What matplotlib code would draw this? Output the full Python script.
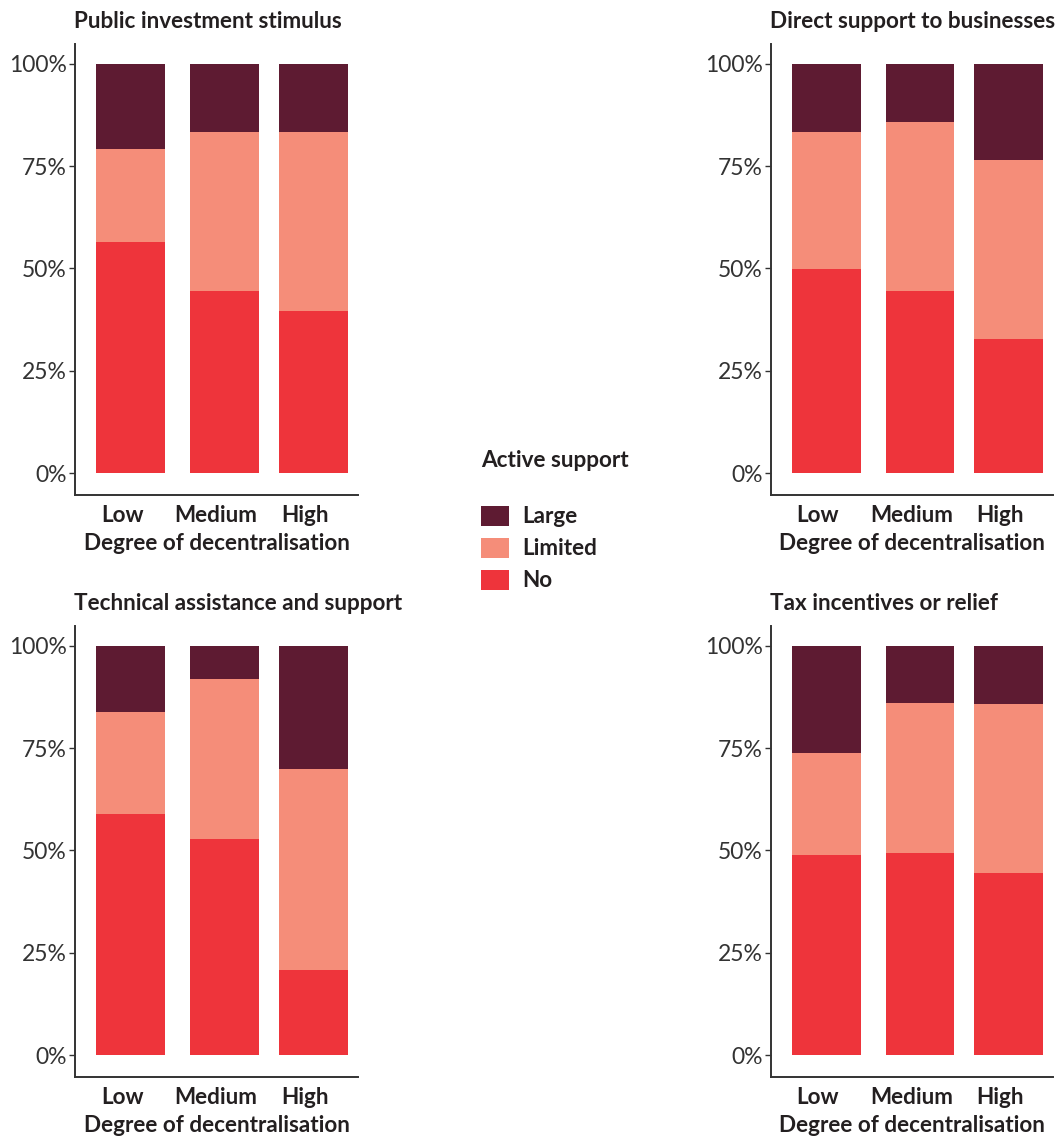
import matplotlib
matplotlib.use("Agg")
import matplotlib.pyplot as plt
from matplotlib.patches import Patch
import numpy as np

plt.rcParams["font.family"] = ["Lato", "DejaVu Sans"]

# data (shares in %)
categories = ["Low", "Medium", "High"]
panel_titles = [
    "Public investment stimulus",
    "Direct support to businesses",
    "Technical assistance and support",
    "Tax incentives or relief",
]
no_public = [56.4, 44.6, 39.5]
limited_public = [22.7, 38.7, 43.9]
large_public = [20.9, 16.7, 16.6]

no_direct = [49.8, 44.6, 32.7]
limited_direct = [33.5, 41.1, 43.7]
large_direct = [16.7, 14.3, 23.6]

no_technical = [59.0, 52.7, 20.9]
limited_technical = [24.9, 39.1, 48.9]
large_technical = [16.1, 8.2, 30.2]

no_tax = [49.0, 49.5, 44.4]
limited_tax = [24.7, 36.4, 41.3]
large_tax = [26.3, 14.1, 14.3]

series_names = ["Large", "Limited", "No"]
colors = {"Large": "#5e1b32", "Limited": "#f58d79", "No": "#ee343b"}
text_col = "#231f20"
fs = 16.2

panels = [
    (no_public, limited_public, large_public),
    (no_direct, limited_direct, large_direct),
    (no_technical, limited_technical, large_technical),
    (no_tax, limited_tax, large_tax),
]

W, H = 1057, 1137
fig = plt.figure(figsize=(W / 100, H / 100), dpi=100)


def add_ax(left, top, right, bottom):
    return fig.add_axes([left / W, 1 - bottom / H, (right - left) / W, (bottom - top) / H])


# pixel boxes of each panel (left, top, right, bottom)
boxes = [(75, 44, 358, 495), (771, 44, 1053, 495),
         (75, 626, 358, 1077), (771, 626, 1053, 1077)]

bar_pos = np.array([0, 1, 1.947])
label_pos = bar_pos - 0.09

for (left, top, right, bottom), title, (no, lim, large) in zip(boxes, panel_titles, panels):
    ax = add_ax(left, top, right, bottom)
    no = np.array(no) / 100
    lim = np.array(lim) / 100
    large = np.array(large) / 100
    ax.bar(bar_pos, no, width=0.734, color=colors["No"])
    ax.bar(bar_pos, lim, width=0.734, bottom=no, color=colors["Limited"])
    ax.bar(bar_pos, large, width=0.734, bottom=no + lim, color=colors["Large"])

    ax.set_xlim(-0.59, 2.42)
    ax.set_ylim(-0.053, 1.048)
    ax.set_yticks([0, 0.25, 0.5, 0.75, 1.0])
    ax.set_yticklabels(["0%", "25%", "50%", "75%", "100%"])
    ax.set_xticks(label_pos)
    ax.set_xticklabels(categories, fontweight="bold")
    ax.tick_params(axis="x", length=0, pad=7, labelsize=fs, labelcolor=text_col)
    ax.tick_params(axis="y", length=4, width=1, pad=2, labelsize=16.5, labelcolor="#333333",
                   color="#333333")
    ax.set_xlabel("Degree of decentralisation", fontsize=fs, fontweight="bold",
                  color=text_col, labelpad=5)
    for s in ["top", "right"]:
        ax.spines[s].set_visible(False)
    for s in ["left", "bottom"]:
        ax.spines[s].set_linewidth(1.4)
        ax.spines[s].set_color("#333333")

    fig.text((left - 1) / W, 1 - (top - 23) / H, title, ha="left", va="center",
             fontsize=fs, fontweight="bold", color=text_col)

handles = [Patch(facecolor=colors[n], edgecolor="none") for n in series_names]
leg = fig.legend(handles, series_names, title="Active support", loc="upper left",
                 bbox_to_anchor=(481 / W, 1 - 450 / H), frameon=False, alignment="left",
                 prop={"size": fs, "weight": "bold"}, handlelength=1.24, handleheight=1.0,
                 handletextpad=0.6, labelspacing=0.45, borderpad=0, borderaxespad=0)
leg.get_title().set_fontsize(fs)
leg.get_title().set_fontweight("bold")
leg.get_title().set_color(text_col)
for t in leg.get_texts():
    t.set_color(text_col)
leg._legend_box.sep = 25

fig.savefig("out.png", dpi=100)
